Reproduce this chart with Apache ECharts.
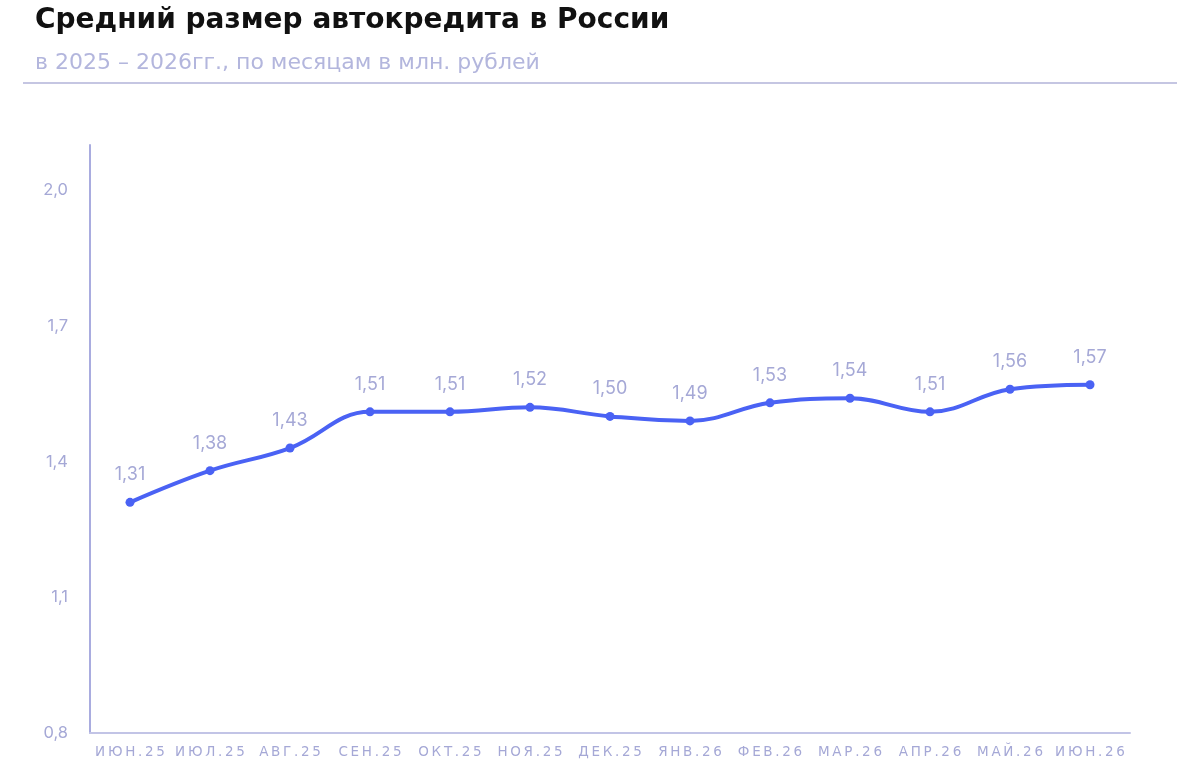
<!DOCTYPE html>
<html>
<head>
<meta charset="utf-8">
<script src="https://cdn.jsdelivr.net/npm/echarts@6/dist/echarts.min.js"></script>
<style>
  html, body { margin: 0; padding: 0; background: #fff; }
  #chart { width: 1200px; height: 780px; }
</style>
</head>
<body>
<div id="chart"></div>
<script>
// месяцы
const months = ["ИЮН.25", "ИЮЛ.25", "АВГ.25", "СЕН.25", "ОКТ.25", "НОЯ.25", "ДЕК.25",
  "ЯНВ.26", "ФЕВ.26", "МАР.26", "АПР.26", "МАЙ.26", "ИЮН.26"];
// средний размер, млн руб.
const avgLoan = [1.31, 1.38, 1.43, 1.51, 1.51, 1.52, 1.50, 1.49, 1.53, 1.54, 1.51, 1.56, 1.57];
// подписи оси Y
const yTicks = [0.8, 1.1, 1.4, 1.7, 2.0];

const labelColor = "#a5a8d6";
const fmt = v => v.toFixed(2).replace(".", ",");

let chart = echarts.init(document.getElementById("chart"));
chart.setOption({
  animation: false,
  title: {
    text: "Средний размер автокредита в России",
    subtext: "в 2025 – 2026гг., по месяцам в млн. рублей",
    left: 30,
    top: 2,
    itemGap: 17,
    textStyle: {
      fontFamily: "DejaVu Sans",
      fontSize: 28,
      fontWeight: "bold",
      color: "#111"
    },
    subtextStyle: {
      fontFamily: "DejaVu Sans",
      fontSize: 22,
      color: "#b3b6dd"
    }
  },
  graphic: [
    {
      type: "line",
      shape: { x1: 23, y1: 83, x2: 1177, y2: 83 },
      style: { stroke: "#c5c6e2", lineWidth: 2 }
    }
  ],
  grid: {
    left: 90,
    right: 70,
    top: 145,
    bottom: 47
  },
  xAxis: {
    type: "category",
    boundaryGap: true,
    data: months,
    axisLine: { lineStyle: { color: "#c2c4e6", width: 2 } },
    axisTick: { show: false },
    axisLabel: {
      color: labelColor,
      fontFamily: "DejaVu Sans",
      fontSize: 13.5,
      margin: 12,
      interval: 0,
      // разрядка букв
      formatter: v => v.split("").join("\u2009")
    }
  },
  yAxis: {
    type: "value",
    min: 0.8,
    max: 2.1,
    interval: 0.1,
    axisLine: { show: true, lineStyle: { color: "#a9acdf", width: 2 } },
    axisTick: { show: false },
    splitLine: { show: false },
    axisLabel: {
      color: labelColor,
      fontFamily: "Inter",
      fontSize: 16.5,
      margin: 22,
      formatter: v => {
        const hit = yTicks.find(t => Math.abs(t - v) < 1e-6);
        return hit !== undefined ? hit.toFixed(1).replace(".", ",") : "";
      }
    }
  },
  series: [
    {
      type: "line",
      data: avgLoan,
      smooth: 0.4,
      symbol: "circle",
      symbolSize: 9,
      lineStyle: { color: "#4a62f4", width: 4 },
      itemStyle: { color: "#4a62f4" },
      label: {
        show: true,
        position: "top",
        distance: 14,
        color: labelColor,
        fontFamily: "Inter",
        fontSize: 18,
        formatter: p => fmt(p.value)
      }
    }
  ]
});
</script>
</body>
</html>
